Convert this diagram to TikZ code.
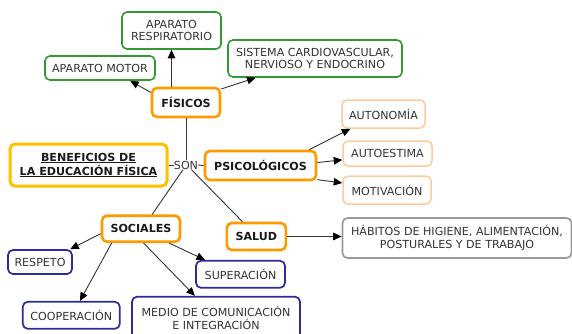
\documentclass[tikz,border=0pt]{standalone}
\usepackage{fontspec}
\setmainfont{DejaVu Sans}
\usetikzlibrary{arrows.meta}
\definecolor{grnc}{HTML}{339933}
\definecolor{orc}{HTML}{FF9900}
\definecolor{goldc}{HTML}{FFC000}
\definecolor{lorc}{HTML}{FFCC99}
\definecolor{navc}{HTML}{2B2B99}
\definecolor{gryc}{HTML}{999999}
\definecolor{txt}{HTML}{333333}
\definecolor{btxt}{HTML}{1A1A1A}
\begin{document}
\begin{tikzpicture}[x=1pt,y=-1pt,
  box/.style={draw, rounded corners=5pt, align=center, inner sep=0pt, fill=white,
    text=txt, font=\fontsize{11.1}{12.6}\selectfont},
  grn/.style={box, draw=grnc, line width=1.6pt},
  ora/.style={box, draw=orc, line width=2.6pt, text=btxt, font=\fontsize{11.1}{12.6}\selectfont\bfseries},
  lor/.style={box, draw=lorc, line width=1.5pt},
  nav/.style={box, draw=navc, line width=1.7pt},
  gry/.style={box, draw=gryc, line width=1.7pt},
  arr/.style={draw=txt, line width=0.9pt, -{Triangle[length=8.5pt,width=7.5pt,color=black]}},
  lin/.style={draw=txt, line width=0.9pt}
]
\path[use as bounding box] (0,0) rectangle (572,333);
\clip (0,0) rectangle (572,333);
% physical
\node[grn, minimum width=99pt, minimum height=37pt] (resp) at (171.5,30.5) {APARATO\\RESPIRATORIO};
\node[grn, minimum width=110pt, minimum height=24pt] (motor) at (100,68) {APARATO MOTOR};
\node[grn, minimum width=174pt, minimum height=37pt] (sist) at (315,58.5) {SISTEMA CARDIOVASCULAR,\\NERVIOSO Y ENDOCRINO};
\node[ora, minimum width=68pt, minimum height=29pt] (fis) at (186,102.5) {FÍSICOS};
% center
\node[box, draw=goldc, line width=3pt, minimum width=157pt, minimum height=42pt, text=btxt,
  font=\fontsize{11.1}{14}\selectfont\bfseries] (benef) at (88.5,165) {\underline{BENEFICIOS DE}\\\underline{LA EDUCACIÓN FÍSICA}};
\node[inner sep=0pt, text=txt, font=\fontsize{11.1}{12.6}\selectfont, minimum width=24pt, minimum height=9pt] (son) at (186,165) {SON};
\node[ora, minimum width=111pt, minimum height=29pt] (psico) at (260.5,165.5) {PSICOLÓGICOS};
% psychological
\node[lor, minimum width=83pt, minimum height=28pt] (auton) at (383.5,114) {AUTONOMÍA};
\node[lor, minimum width=89pt, minimum height=25pt] (autoe) at (387.5,153.5) {AUTOESTIMA};
\node[lor, minimum width=88pt, minimum height=28pt] (motiv) at (387,190) {MOTIVACIÓN};
% health
\node[ora, minimum width=59pt, minimum height=27pt] (salud) at (256.3,236.5) {SALUD};
\node[gry, minimum width=229pt, minimum height=40pt] (hab) at (457,238) {HÁBITOS DE HIGIENE, ALIMENTACIÓN,\\POSTURALES Y DE TRABAJO};
% social
\node[ora, minimum width=78pt, minimum height=26pt] (soc) at (141,228.7) {SOCIALES};
\node[nav, minimum width=64pt, minimum height=24pt] (resp2) at (40,262) {RESPETO};
\node[nav, minimum width=89pt, minimum height=27pt] (super) at (240.5,274.3) {SUPERACIÓN};
\node[nav, minimum width=97pt, minimum height=27pt] (coop) at (71.3,315.3) {COOPERACIÓN};
\node[nav, minimum width=168pt, minimum height=42pt] (medio) at (216,317.7) {MEDIO DE COMUNICACIÓN\\E INTEGRACIÓN};
% connectors
\draw[lin] (benef.east) -- (son.west);
\draw[lin] (son.east) -- (psico.west);
\draw[lin] (fis.south) -- (son.north);
\draw[lin] (son.-123) -- (soc.52);
\draw[lin] (son.-41) -- (salud.133);
\draw[arr] (fis.164) -- (motor.-23);
\draw[arr] (fis.north -| resp.south) -- (resp.south);
\draw[arr] (fis.21) -- (sist.198);
\draw[arr] (psico.18) -- (auton.204);
\draw[arr] (psico.3) -- (autoe.188);
\draw[arr] (psico.-14) -- (motiv.171.6);
\draw[arr] (salud.east) -- (salud.east -| hab.west);
\draw[arr] (soc.187.8) -- (resp2.23);
\draw[arr] (soc.206.3) -- (coop.59);
\draw[arr] (soc.-80.7) -- (medio.134);
\draw[arr] (soc.-27.1) -- (super.158);
\end{tikzpicture}
\end{document}
